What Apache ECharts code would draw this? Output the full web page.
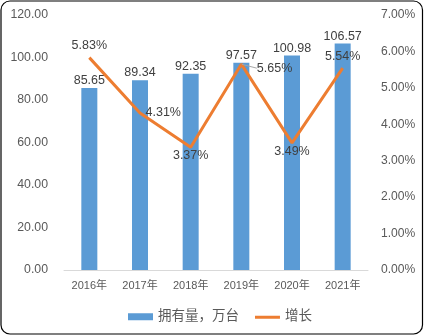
<!DOCTYPE html>
<html>
<head>
<meta charset="utf-8">
<script src="https://cdn.jsdelivr.net/npm/echarts@6/dist/echarts.min.js"></script>
<style>
html,body{margin:0;padding:0;background:#fff;}
#c{position:absolute;left:0;top:0;width:424px;height:336px;}
</style>
</head>
<body>
<div id="c"></div>
<script>
var categories = ['2016年','2017年','2018年','2019年','2020年','2021年'];
var ownership = [85.65, 89.34, 92.35, 97.57, 100.98, 106.57];
var growth = [5.83, 4.31, 3.37, 5.65, 3.49, 5.54];
var barName = '拥有量，万台';
var lineName = '增长';

var FONT = "'Liberation Sans', Arial, 'Noto Sans CJK SC', sans-serif";
var labelPlacement = [
  {position:'top', distance:5, offset:[3,0]},
  {position:'right', distance:5, offset:[-4,-10]},
  {position:'bottom', distance:2, offset:[2,0]},
  {position:'right', distance:5},
  {position:'bottom', distance:2, offset:[2,3]},
  {position:'top', distance:5, offset:[7,4]}
];
var lineData = growth.map(function(v,i){
  var d = {value:v, label:labelPlacement[i]};
  if (i === 3) d.labelLine = {show:true, length2:0, lineStyle:{color:'#A6A6A6', width:1}};
  return d;
});

var chart = echarts.init(document.getElementById('c'), null, {renderer:'canvas'});
chart.setOption({
  animation:false,
  backgroundColor:'#fff',
  textStyle:{fontFamily:FONT},
  graphic:[{
    type:'rect', silent:true, z:100,
    shape:{x:1, y:1, width:421.5, height:333, r:9},
    style:{fill:'none', stroke:'#000', lineWidth:1.2}
  }],
  grid:{left:64, right:56, top:15, bottom:66, containLabel:false},
  legend:{
    left:123, top:305, itemWidth:25, itemHeight:7, itemGap:16,
    textStyle:{fontSize:13.5, color:'#595959', fontFamily:FONT},
    data:[
      {name:barName, icon:'rect'},
      {name:lineName, icon:'path://M0,0L25,0L25,0.01Z M0,2.5H25V5.5H0Z M0,7L25,7L25,7.01Z',
       itemStyle:{color:'#ED7D31'}}
    ]
  },
  xAxis:{
    type:'category', data:categories,
    axisLine:{lineStyle:{color:'#D9D9D9', width:1}},
    axisTick:{show:false},
    axisLabel:{color:'#595959', fontSize:11, margin:10, fontFamily:FONT}
  },
  yAxis:[{
    type:'value', min:0, max:120, interval:20,
    axisLine:{show:false}, axisTick:{show:false}, splitLine:{show:false},
    axisLabel:{color:'#595959', fontSize:12.3, margin:16, fontFamily:FONT,
      formatter:function(v){return v.toFixed(2);}}
  },{
    type:'value', min:0, max:7, interval:1, position:'right',
    axisLine:{show:false}, axisTick:{show:false}, splitLine:{show:false},
    axisLabel:{color:'#595959', fontSize:12.1, margin:13, fontFamily:FONT,
      formatter:function(v){return v.toFixed(2)+'%';}}
  }],
  series:[{
    name:barName, type:'bar', data:ownership, barWidth:16,
    itemStyle:{color:'#5B9BD5'},
    label:{show:true, position:'top', distance:1, fontSize:12.5, color:'#404040',
      fontFamily:FONT, formatter:function(p){return p.value.toFixed(2);}}
  },{
    name:lineName, type:'line', yAxisIndex:1, data:lineData,
    symbol:'circle', symbolSize:1, showSymbol:true,
    lineStyle:{color:'#ED7D31', width:3},
    itemStyle:{color:'rgba(237,125,49,0)', borderWidth:0},
    labelLayout:function(p){
      if (p.dataIndex === 3) return {dx:10, dy:4};
      return {};
    },
    label:{show:true, fontSize:12.5, color:'#404040', fontFamily:FONT,
      formatter:function(p){return p.value.toFixed(2)+'%';}}
  }]
});
</script>
</body>
</html>
